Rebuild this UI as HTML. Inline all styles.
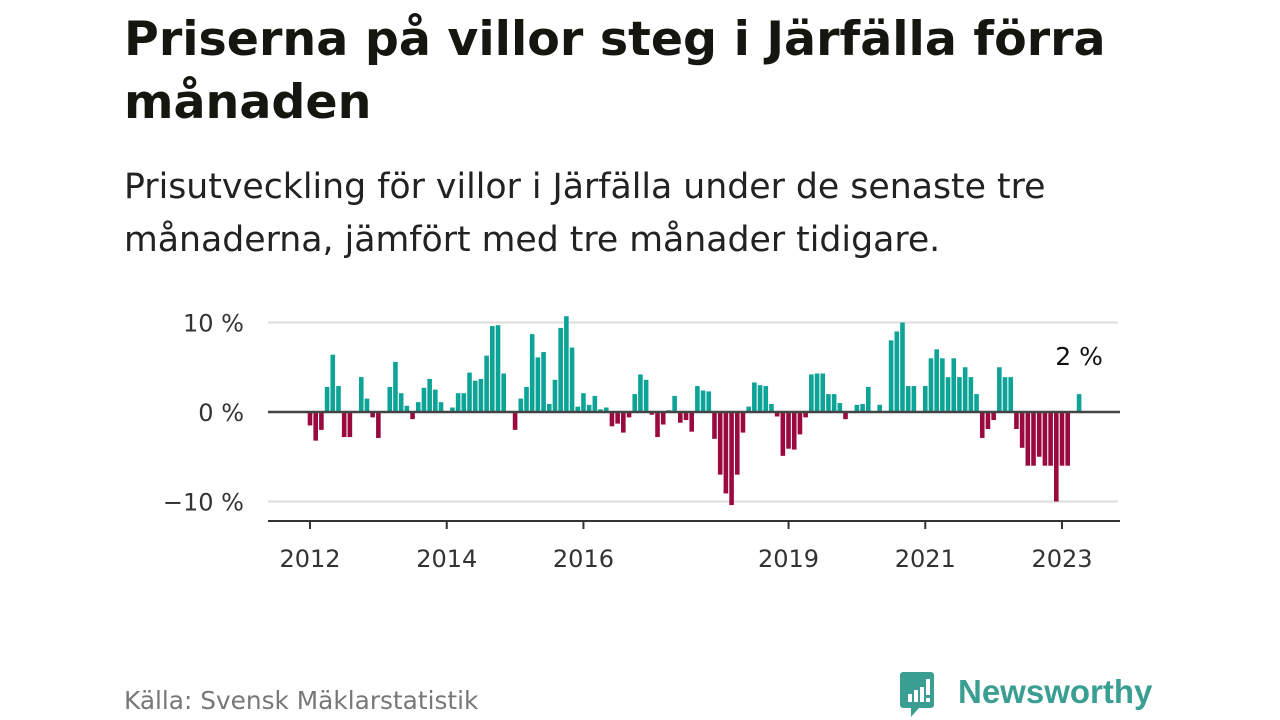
<!DOCTYPE html>
<html><head><meta charset="utf-8">
<style>
body{margin:0;width:1280px;height:720px;background:#fff;overflow:hidden;font-family:"DejaVu Sans",sans-serif;color:#111}
.t{position:absolute;left:124px;top:8px;font-size:47.5px;font-weight:bold;line-height:63px;color:#15160f;white-space:nowrap}
.s{position:absolute;left:124px;top:161px;font-size:34.7px;line-height:53px;color:#222;white-space:nowrap}
.src{position:absolute;left:124px;top:686px;font-size:24.8px;color:#777}
svg{position:absolute;left:0;top:0}
</style></head><body>
<div class="t">Priserna på villor steg i Järfälla förra<br>månaden</div>
<div class="s">Prisutveckling för villor i Järfälla under de senaste tre<br>månaderna, jämfört med tre månader tidigare.</div>
<div class="src">Källa: Svensk Mäklarstatistik</div>
<svg width="1280" height="720" id="chart">
<g>
<path d="M903 672 h28 a3 3 0 0 1 3 3 v30 a3 3 0 0 1 -3 3 h-12 l-8 9 v-9 h-8 a3 3 0 0 1 -3 -3 v-30 a3 3 0 0 1 3 -3z" fill="#3a9e93"/>
<rect x="908" y="694" width="4" height="8" fill="#fff"/><rect x="914" y="690" width="4" height="12" fill="#fff"/><rect x="920" y="687" width="4" height="15" fill="#fff"/><rect x="926" y="679" width="4" height="16" fill="#fff"/><rect x="926" y="698" width="4" height="4" fill="#fff"/>
<text x="958" y="703" font-size="33" font-weight="bold" fill="#3a9e93" font-family="Liberation Sans, sans-serif">Newsworthy</text>
</g>
</svg>
<script>
const values=[-1.5,-3.2,-2,2.8,6.4,2.9,-2.8,-2.8,0,3.9,1.5,-0.6,-2.9,0,2.8,5.6,2.1,0.7,-0.8,1.1,2.7,3.7,2.5,1.1,
0,0.5,2.1,2.1,4.4,3.5,3.7,6.3,9.6,9.7,4.3,0.1,-2.0,1.5,2.8,8.7,6.1,6.7,0.9,3.6,9.4,10.7,7.2,0.6,
2.1,0.8,1.8,0.3,0.5,-1.6,-1.3,-2.3,-0.6,2.0,4.2,3.6,-0.3,-2.8,-1.4,0.2,1.8,-1.2,-0.9,-2.2,2.9,2.4,2.3,-3.0,
-7.0,-9.1,-10.4,-7.0,-2.3,0.6,3.3,3.0,2.9,0.9,-0.5,-4.9,-4.1,-4.2,-2.5,-0.6,4.2,4.3,4.3,2.0,2.0,1.0,-0.8,0,
0.8,0.9,2.8,0,0.8,0,8.0,9.0,10.0,2.9,2.9,0,2.9,6.0,7.0,6.0,3.9,6.0,3.9,5.0,3.9,2.0,-2.9,-1.9,-0.9,5.0,3.9,3.9,
-1.9,-4.0,-6.0,-6.0,-5.0,-6.0,-6.0,-10.0,-6.0,-6.0,0,2.0];
const startYear=2012;
const yTicks=[10,0,-10];
const yTickLabels=["10 %","0 %","−10 %"];
const xTickYears=[2012,2014,2016,2019,2021,2023];
const lastLabel="2 %";
const NS="http://www.w3.org/2000/svg";
const svg=document.getElementById('chart');
const x=m=>310+m*5.697;
const y=v=>412-v*8.95;
function el(t,a){const e=document.createElementNS(NS,t);for(const k in a)e.setAttribute(k,a[k]);svg.appendChild(e);return e;}
yTicks.forEach((t,i)=>{
  if(t!==0){const g=el('line',{x1:268,x2:1118,y1:y(t),y2:y(t),stroke:'#ddd','stroke-width':2});
  
  }
  const l=el('text',{x:244,y:y(t)+9,'text-anchor':'end','font-size':24,fill:'#333'});
  l.textContent=yTickLabels[i];
  
  
});
values.forEach((v,i)=>{
  if(v===0)return;
  const r=el('rect',{x:x(i)-2.3,y:Math.min(y(v),412),width:4.6,height:Math.abs(y(v)-412),fill:v>0?'#0da397':'#9a0a3e'});
  
  
});
const z=el('line',{x1:268,x2:1120,y1:412,y2:412,stroke:'#444','stroke-width':2.5});


const ax=el('line',{x1:268,x2:1120,y1:521,y2:521,stroke:'#333','stroke-width':2});


xTickYears.forEach(yr=>{
  const px=x((yr-startYear)*12);
  const t=el('line',{x1:px,x2:px,y1:521,y2:529,stroke:'#333','stroke-width':2});
  
  
  const l=el('text',{x:px,y:567,'text-anchor':'middle','font-size':24,fill:'#333'});
  l.textContent=yr;
  
  
});
const li=values.length-1;
const lab=el('text',{x:x(li),y:y(values[li])-29,'text-anchor':'middle','font-size':25,fill:'#111'});
lab.textContent=lastLabel;


</script>
</body></html>
